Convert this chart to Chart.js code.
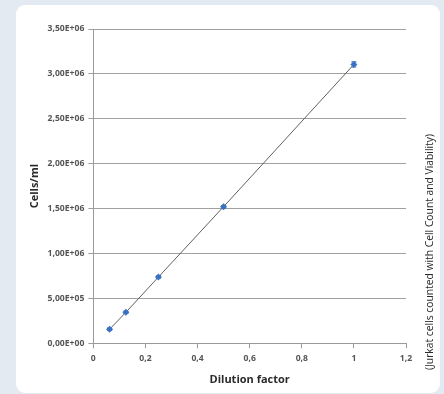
<!DOCTYPE html>
<html>
<head>
<meta charset="utf-8">
<script src="https://cdn.jsdelivr.net/npm/chart.js@4/dist/chart.umd.min.js"></script>
<style>
  html, body { margin: 0; padding: 0; width: 444px; height: 394px; overflow: hidden; background: #e4eaf2; }
  #card { position: absolute; left: 16px; top: 5px; width: 424px; height: 388px; background: #ffffff; border-radius: 9px; }
  #c { position: absolute; left: 0; top: 0; }
</style>
</head>
<body>
<div id="card"></div>
<canvas id="c" width="444" height="394"></canvas>
<script>
// ---- data ----
const dilutionFactors = [0.0625, 0.125, 0.25, 0.5, 1];
const cellsPerMl = [156000, 345000, 738000, 1521000, 3105000];
const cellsError = [12000, 12000, 12000, 12000, 28000];
const xTickLabels = ["0", "0,2", "0,4", "0,6", "0,8", "1", "1,2"];
const yTickLabels = ["0,00E+00", "5,00E+05", "1,00E+06", "1,50E+06", "2,00E+06", "2,50E+06", "3,00E+06", "3,50E+06"];
const xTitle = "Dilution factor";
const yTitle = "Cells/ml";
const sideCaption = "(Jurkat cells counted with Cell Count and Viability)";

const blue = "#3b73c4";
const tickFont = { family: "'Open Sans', sans-serif", size: 8.6, weight: "bold" };

const errorBars = {
  id: "errorBars",
  afterDatasetsDraw(chart) {
    const ctx = chart.ctx, xs = chart.scales.x, ys = chart.scales.y;
    ctx.save();
    ctx.strokeStyle = blue;
    ctx.lineWidth = 1.2;
    dilutionFactors.forEach((d, i) => {
      const px = xs.getPixelForValue(d);
      const yTop = ys.getPixelForValue(cellsPerMl[i] + cellsError[i]);
      const yBot = ys.getPixelForValue(cellsPerMl[i] - cellsError[i]);
      ctx.beginPath();
      ctx.moveTo(px, yTop); ctx.lineTo(px, yBot);
      ctx.moveTo(px - 2.5, yTop); ctx.lineTo(px + 2.5, yTop);
      ctx.moveTo(px - 2.5, yBot); ctx.lineTo(px + 2.5, yBot);
      ctx.stroke();
    });
    ctx.restore();
  }
};

const caption = {
  id: "caption",
  afterDraw(chart) {
    const ctx = chart.ctx;
    ctx.save();
    ctx.translate(430, 252);
    ctx.rotate(-Math.PI / 2);
    ctx.font = "10.3px 'Open Sans', sans-serif";
    ctx.fillStyle = "#2a2a2a";
    ctx.textAlign = "center";
    ctx.textBaseline = "middle";
    ctx.fillText(sideCaption, 0, 0);
    ctx.restore();
  }
};

new Chart(document.getElementById("c"), {
  type: "scatter",
  data: {
    datasets: [{
      data: dilutionFactors.map((d, i) => ({ x: d, y: cellsPerMl[i] })),
      showLine: true,
      borderColor: "#606060",
      borderWidth: 1,
      pointStyle: "rectRot",
      pointRadius: 3.5,
      pointBackgroundColor: blue,
      pointBorderColor: blue,
      pointBorderWidth: 0
    }]
  },
  options: {
    responsive: false,
    animation: false,
    layout: { padding: { left: 24, right: 38, top: 29, bottom: 4 } },
    plugins: { legend: { display: false }, tooltip: { enabled: false } },
    scales: {
      x: {
        type: "linear",
        min: 0, max: 1.2,
        ticks: {
          stepSize: 0.2,
          padding: 5,
          color: "#555555",
          font: tickFont,
          callback: (v, i) => xTickLabels[i]
        },
        grid: { drawOnChartArea: false, drawTicks: true, tickLength: 5, color: "#9a9a9a" },
        border: { color: "#9a9a9a" },
        title: { display: true, text: xTitle, color: "#2a2a2a", font: { family: "'Open Sans', sans-serif", size: 11, weight: "bold" }, padding: 4 },
        afterFit: (s) => { s.height = 46.7; }
      },
      y: {
        type: "linear",
        min: 0, max: 3500000,
        ticks: {
          stepSize: 500000,
          padding: 4,
          color: "#555555",
          font: tickFont,
          callback: (v, i) => yTickLabels[i]
        },
        grid: { color: "#a0a0a0", tickLength: 5, lineWidth: 1 },
        border: { color: "#9a9a9a" },
        title: { display: true, text: yTitle, color: "#2a2a2a", font: { family: "'Open Sans', sans-serif", size: 11, weight: "bold" }, padding: 4 },
        afterFit: (s) => { s.width = 69.3; }
      }
    }
  },
  plugins: [errorBars, caption]
});
</script>
</body>
</html>
